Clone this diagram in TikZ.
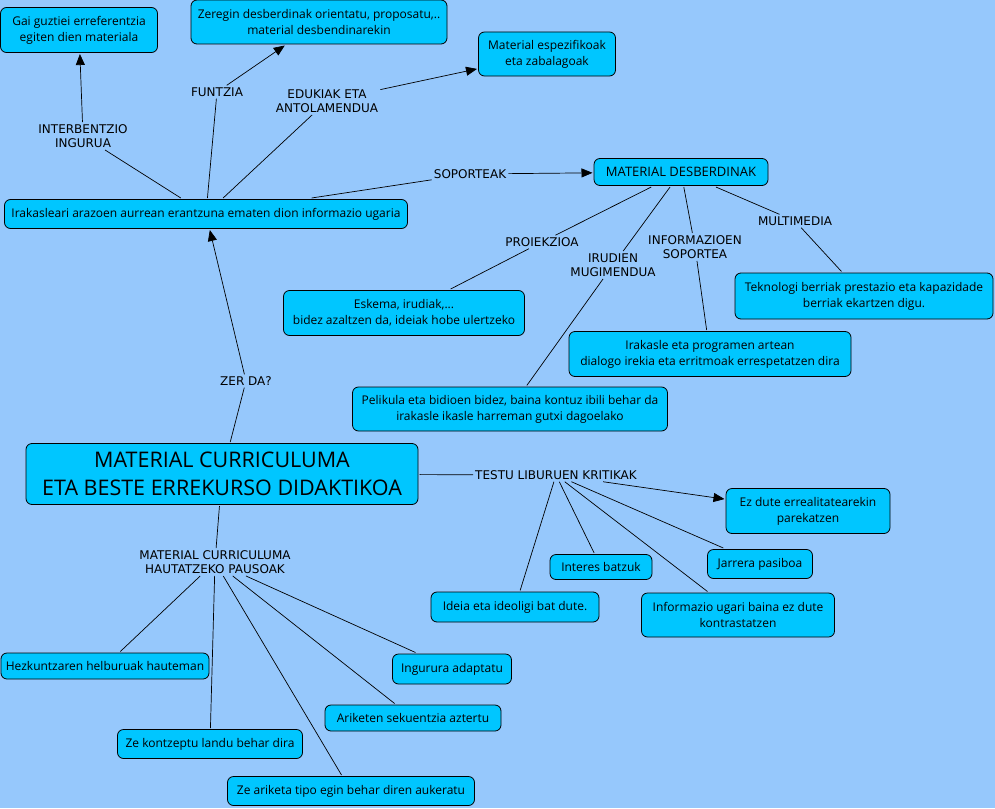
\documentclass[tikz,border=0pt]{standalone}
\usepackage{fontspec}
\setmainfont{Open Sans}
\newfontfamily\linkfont{DejaVu Sans}
\definecolor{mapblue}{RGB}{150,200,252}
\definecolor{conceptblue}{RGB}{0,198,255}
\usetikzlibrary{arrows.meta}

\begin{document}
\begin{tikzpicture}[x=1pt,y=-1pt,
  concept/.style={draw, fill=conceptblue, rounded corners=6pt, align=center,
    inner sep=0pt, outer sep=1.5pt, line width=0.8pt, font=\fontsize{12}{16}\selectfont},
  linklabel/.style={align=center, inner sep=2pt, font=\linkfont\fontsize{12}{14.5}\selectfont},
  link/.style={line width=0.7pt},
  linkarrow/.style={link, -{Triangle[length=11pt,width=9pt]}}]
  \fill[mapblue] (0,0) rectangle (995,808);
  \useasboundingbox (0,0) rectangle (995,808);

  % concepts
  \node[concept, minimum width=157, minimum height=45] (gai) at (79,30) {Gai guztiei erreferentzia\\egiten dien materiala};
  \node[concept, minimum width=256, minimum height=44] (zeregin) at (319,22) {Zeregin desberdinak orientatu, proposatu,..\\material desbendinarekin};
  \node[concept, minimum width=137, minimum height=44] (espez) at (547,54) {Material espezifikoak\\eta zabalagoak};
  \node[concept, minimum width=403, minimum height=29] (irak) at (206,214) {Irakasleari arazoen aurrean erantzuna ematen dion informazio ugaria};
  \node[concept, minimum width=174, minimum height=27, font=\fontsize{13}{16}\selectfont] (matdes) at (681,172) {MATERIAL DESBERDINAK};
  \node[concept, minimum width=258, minimum height=46] (tekno) at (864,296) {Teknologi berriak prestazio eta kapazidade\\berriak ekartzen digu.};
  \node[concept, minimum width=241, minimum height=45] (eskema) at (404,313) {Eskema, irudiak,...\\bidez azaltzen da, ideiak hobe ulertzeko};
  \node[concept, minimum width=282, minimum height=45] (progr) at (710,354) {Irakasle eta programen artean\\dialogo irekia eta erritmoak errespetatzen dira};
  \node[concept, minimum width=315, minimum height=44] (pelikula) at (510,409) {Pelikula eta bidioen bidez, baina kontuz ibili behar da\\irakasle ikasle harreman gutxi dagoelako};
  \node[concept, minimum width=392, minimum height=61, font=\fontsize{21.5}{28}\selectfont] (main) at (222,474) {MATERIAL CURRICULUMA\\ETA BESTE ERREKURSO DIDAKTIKOA};
  \node[concept, minimum width=164, minimum height=45] (ezdute) at (808,511) {Ez dute errealitatearekin\\parekatzen};
  \node[concept, minimum width=102, minimum height=25] (interes) at (601,567) {Interes batzuk};
  \node[concept, minimum width=105, minimum height=29] (jarrera) at (760,564) {Jarrera pasiboa};
  \node[concept, minimum width=168, minimum height=30] (ideia) at (515,607) {Ideia eta ideoligi bat dute.};
  \node[concept, minimum width=193, minimum height=44] (ugari) at (738,615) {Informazio ugari baina ez dute\\kontrastatzen};
  \node[concept, minimum width=208, minimum height=26] (hezk) at (105,666) {Hezkuntzaren helburuak hauteman};
  \node[concept, minimum width=185, minimum height=29] (kontz) at (210,744) {Ze kontzeptu landu behar dira};
  \node[concept, minimum width=247, minimum height=29] (ariketa) at (351,791) {Ze ariketa tipo egin behar diren aukeratu};
  \node[concept, minimum width=176, minimum height=26] (sekuen) at (413,718) {Ariketen sekuentzia aztertu};
  \node[concept, minimum width=119, minimum height=30] (ingurura) at (452,669) {Ingurura adaptatu};

  % link labels
  \node[linklabel] (lInterb) at (83,136) {INTERBENTZIO\\INGURUA};
  \node[linklabel] (lFuntzia) at (217,92) {FUNTZIA};
  \node[linklabel] (lEdukiak) at (327,101) {EDUKIAK ETA\\ANTOLAMENDUA};
  \node[linklabel] (lSoport) at (470,174) {SOPORTEAK};
  \node[linklabel] (lProiek) at (542,242) {PROIEKZIOA};
  \node[linklabel] (lIrudien) at (613,265) {IRUDIEN\\MUGIMENDUA};
  \node[linklabel] (lInfo) at (695,247) {INFORMAZIOEN\\SOPORTEA};
  \node[linklabel] (lMulti) at (795,221) {MULTIMEDIA};
  \node[linklabel] (lZerda) at (246,381) {ZER DA?};
  \node[linklabel] (lTestu) at (556,475) {TESTU LIBURUEN KRITIKAK};
  \node[linklabel] (lPausoak) at (215,562) {MATERIAL CURRICULUMA\\HAUTATZEKO PAUSOAK};

  % links
  \draw[link] (irak) -- (lInterb);
  \draw[linkarrow] (lInterb) -- (gai);
  \draw[link] (irak) -- (lFuntzia);
  \draw[linkarrow] (lFuntzia) -- (zeregin);
  \draw[link] (irak) -- (lEdukiak);
  \draw[linkarrow] (lEdukiak) -- (espez);
  \draw[link] (irak) -- (lSoport);
  \draw[linkarrow] (lSoport) -- (matdes);
  \draw[link] (matdes) -- (lProiek) -- (eskema);
  \draw[link] (matdes) -- (lIrudien) -- (pelikula);
  \draw[link] (matdes) -- (lInfo) -- (progr);
  \draw[link] (matdes) -- (lMulti) -- (tekno);
  \draw[link] (main) -- (lZerda);
  \draw[linkarrow] (lZerda) -- (irak);
  \draw[link] (main) -- (lTestu);
  \draw[linkarrow] (lTestu) -- (ezdute);
  \foreach \leaf in {ideia,interes,ugari,jarrera}
    \draw[link] (lTestu) -- (\leaf);
  \draw[link] (main) -- (lPausoak);
  \foreach \leaf in {hezk,kontz,ariketa,sekuen,ingurura}
    \draw[link] (lPausoak) -- (\leaf);
\end{tikzpicture}
\end{document}
